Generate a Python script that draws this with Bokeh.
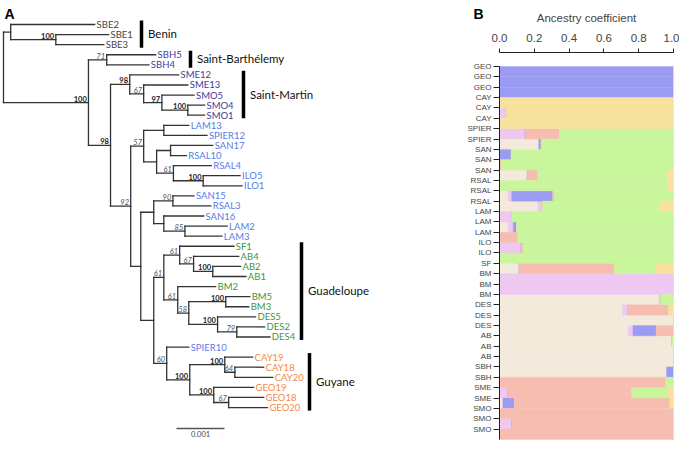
from bokeh.plotting import figure
from bokeh.models import Range1d, FixedTicker, ColumnDataSource, PrintfTickFormatter, LinearAxis
from bokeh.layouts import row
from bokeh.embed import file_html
from bokeh.resources import INLINE
from bokeh.core.properties import value

# ------------------------------------------------------------------
# Panel A data: phylogenetic tree (branch lengths in units of 1e-4)
# ------------------------------------------------------------------
tree_node = ["root",
    "n_benin", "SBE2", "n_sbe", "SBE1", "SBE3",
    "n_a", "n_sbh", "SBH5", "SBH4",
    "n_b", "n_sm", "SME12", "n_sm2", "SME13", "n_sm3", "SMO5", "n_sm4", "SMO4", "SMO1",
    "n_92", "n_57", "n_ls", "LAM13", "SPIER12", "n_x", "n_sr", "SAN17", "RSAL10", "n_61a", "RSAL4", "n_ilo", "ILO5", "ILO1",
    "n_c", "n_c1", "n_90", "SAN15", "RSAL3", "n_c2", "SAN16", "n_85", "LAM2", "LAM3",
    "n_d", "n_gua", "n_61b", "SF1", "n_67b", "AB4", "n_ab", "AB2", "AB1",
    "n_61c", "BM2", "n_58", "n_bm", "BM5", "BM3", "n_des", "DES5", "n_79", "DES2", "DES4",
    "n_60", "SPIER10", "n_guy", "n_cay", "CAY19", "n_64", "CAY18", "CAY20", "n_geo", "GEO19", "n_67c", "GEO18", "GEO20"]
tree_parent = [None,
    "root", "n_benin", "n_benin", "n_sbe", "n_sbe",
    "root", "n_a", "n_sbh", "n_sbh",
    "n_a", "n_b", "n_sm", "n_sm", "n_sm2", "n_sm2", "n_sm3", "n_sm3", "n_sm4", "n_sm4",
    "n_b", "n_92", "n_57", "n_ls", "n_ls", "n_57", "n_x", "n_sr", "n_sr", "n_x", "n_61a", "n_61a", "n_ilo", "n_ilo",
    "n_92", "n_c", "n_c1", "n_90", "n_90", "n_c1", "n_c2", "n_c2", "n_85", "n_85",
    "n_c", "n_d", "n_gua", "n_61b", "n_61b", "n_67b", "n_67b", "n_ab", "n_ab",
    "n_gua", "n_61c", "n_61c", "n_58", "n_bm", "n_bm", "n_58", "n_des", "n_des", "n_79", "n_79",
    "n_d", "n_60", "n_60", "n_guy", "n_cay", "n_cay", "n_64", "n_64", "n_guy", "n_geo", "n_geo", "n_67c", "n_67c"]
tree_length = [0.0,
    1.5, 17.5, 9.4, 11.0, 10.0,
    17.7, 3.8, 10.2, 8.8,
    4.6, 4.0, 10.2, 2.9, 9.2, 3.8, 6.7, 5.4, 3.5, 3.5,
    4.2, 2.7, 4.2, 5.2, 9.0, 2.7, 2.9, 8.8, 3.3, 3.5, 7.9, 6.2, 7.7, 8.1,
    2.1, 2.7, 4.0, 4.4, 7.9, 2.1, 8.3, 4.4, 8.8, 7.7,
    2.7, 2.1, 3.3, 11.3, 2.9, 9.4, 4.0, 5.8, 6.9,
    2.9, 7.9, 2.3, 7.7, 5.0, 4.8, 6.0, 7.9, 4.0, 5.8, 6.9,
    2.7, 4.6, 4.8, 7.3, 5.8, 2.1, 6.0, 7.9, 5.0, 8.3, 3.1, 7.3, 8.1]
tree_support = [None,
    None, None, 100, None, None,
    100, 71, None, None,
    98, 98, None, 67, None, 97, None, 100, None, None,
    92, 57, None, None, None, None, None, None, None, 61, None, 100, None, None,
    None, None, 90, None, None, None, None, 85, None, None,
    None, 61, 61, None, 67, None, 100, None, None,
    61, None, 58, 100, None, None, 100, None, 79, None, None,
    60, None, 100, 100, None, 64, None, None, 100, None, 67, None, None]

clade_names = ["Benin", "Saint-Barthélemy", "Saint-Martin", "Guadeloupe", "Guyane"]
clade_first = ["SBE2", "SBH5", "SME12", "SF1", "CAY19"]
clade_last = ["SBE3", "SBH4", "SMO1", "DES4", "GEO20"]
scale_bar_length = 10.0          # = 0.001 substitutions / site
scale_bar_label = "0.001"

# ------------------------------------------------------------------
# Panel B data: ancestry coefficients (stack order left -> right)
# ------------------------------------------------------------------
row_labels = ["GEO", "GEO", "GEO", "CAY", "CAY", "CAY", "SPIER", "SPIER", "SAN", "SAN", "SAN",
              "RSAL", "RSAL", "RSAL", "LAM", "LAM", "LAM", "ILO", "ILO", "SF", "BM", "BM", "BM",
              "DES", "DES", "DES", "AB", "AB", "AB", "SBH", "SBH", "SME", "SME", "SMO", "SMO", "SMO"]
k_beige = [0, 0, 0, 0, 0, 0, 0, 0.226, 0, 0, 0.16, 0, 0.05, 0.22, 0, 0.05, 0, 0, 0, 0.113,
           0, 0, 0.917, 0.707, 1, 0.74, 0.99, 1, 1, 0.96, 0, 0, 0.02, 0, 0, 0]
k_pink = [0, 0, 0, 0, 0.04, 0, 0.147, 0, 0, 0, 0, 0, 0.02, 0.025, 0.068, 0.029, 0, 0.124, 0, 0,
          1, 1, 0.008, 0.033, 0, 0.027, 0, 0, 0, 0, 0, 0.049, 0, 0, 0.071, 0]
k_purple = [1, 1, 1, 0, 0, 0, 0, 0.013, 0.067, 0, 0, 0, 0.235, 0, 0, 0.019, 0, 0, 0, 0,
            0, 0, 0, 0, 0, 0.133, 0, 0, 0, 0.04, 0, 0, 0.064, 0, 0, 0]
k_salmon = [0, 0, 0, 0, 0, 0, 0.195, 0, 0, 0.01, 0.06, 0, 0.01, 0, 0, 0, 0.105, 0.011, 0, 0.545,
            0, 0, 0, 0.232, 0, 0.10, 0, 0, 0, 0, 0.955, 0.711, 0.896, 1, 0.929, 1]
k_green = [0, 0, 0, 0, 0, 0, 0.658, 0.761, 0.933, 0.99, 0.744, 0.965, 0.685, 0.675, 0.932, 0.902, 0.895, 0.865, 1, 0.242,
           0, 0, 0.075, 0, 0, 0, 0.01, 0, 0, 0, 0.045, 0.208, 0, 0, 0, 0]
k_yellow = [0, 0, 0, 1, 0.96, 1, 0, 0, 0, 0, 0.036, 0.035, 0, 0.08, 0, 0, 0, 0, 0, 0.10,
            0, 0, 0, 0.028, 0, 0, 0, 0, 0, 0, 0, 0.032, 0.02, 0, 0, 0]
x_ticks = [0.0, 0.2, 0.4, 0.6, 0.8, 1.0]

# ------------------------------------------------------------------
# styles / layout constants
# ------------------------------------------------------------------
TREE_FONT = "Lato"
leaf_colors = {"SBE": "#444444", "SBH": "#3f3c9c", "SME": "#3f3c9c", "SMO": "#3f3c9c",
               "LAM": "#5b7be6", "SPIER": "#5b7be6", "SAN": "#5b7be6", "RSAL": "#5b7be6", "ILO": "#5b7be6",
               "SF": "#3d963d", "AB": "#3d963d", "BM": "#3d963d", "DES": "#3d963d",
               "CAY": "#f08a4c", "GEO": "#f08a4c"}
k_colors = ["#f4eadb", "#eec8f0", "#9b9bf3", "#f6bdb0", "#c9f59c", "#f7e19d"]
PX_PER_UNIT = 4.8          # horizontal pixels per 1e-4 substitutions
ROOT_PX = 3.0              # root position (px from figure left)
FIRST_LEAF_PX = 24.0       # first leaf position (px from figure top)
ROW_PX = 10.08             # vertical pixels per leaf
clade_bar_px = [141, 190, 243, 301, 309]   # bar positions (px from figure left)
H = 443

# ------------------------------------------------------------------
# tree layout computed from the data
# ------------------------------------------------------------------
children = {n: [] for n in tree_node}
for n, par in zip(tree_node, tree_parent):
    if par is not None:
        children[par].append(n)
blen = dict(zip(tree_node, tree_length))
parent = dict(zip(tree_node, tree_parent))
depth = {}
for n, par in zip(tree_node, tree_parent):
    depth[n] = 0.0 if par is None else depth[par] + blen[n]
ypos = {}
leaves = []


def walk(n):
    if not children[n]:
        ypos[n] = len(leaves)
        leaves.append(n)
    else:
        for c in children[n]:
            walk(c)
        ypos[n] = (ypos[children[n][0]] + ypos[children[n][-1]]) / 2.0


walk("root")

TW = 486
X0 = ROOT_PX / PX_PER_UNIT
top_idx = -FIRST_LEAF_PX / ROW_PX
p1 = figure(width=TW, height=H, output_backend="svg", toolbar_location=None,
            x_range=Range1d(-X0, (TW - ROOT_PX) / PX_PER_UNIT),
            y_range=Range1d(top_idx + H / ROW_PX, top_idx),
            min_border=0, min_border_left=0, min_border_right=0, min_border_top=0, min_border_bottom=0,
            outline_line_color=None, x_axis_location=None, y_axis_location=None)
p1.grid.visible = False

hx0, hx1, hy = [], [], []
vx, vy0, vy1 = [], [], []
for n in tree_node:
    if parent[n] is not None:
        hx0.append(depth[parent[n]]); hx1.append(depth[n]); hy.append(ypos[n])
    if children[n]:
        vx.append(depth[n]); vy0.append(ypos[children[n][0]]); vy1.append(ypos[children[n][-1]])
p1.segment(x0=hx0, y0=hy, x1=hx1, y1=hy, line_color="#333333", line_width=1.3, line_cap="square")
p1.segment(x0=vx, y0=vy0, x1=vx, y1=vy1, line_color="#333333", line_width=1.3, line_cap="square")


def leaf_color(name):
    return leaf_colors[name.rstrip("0123456789")]


p1.text(x=[depth[l] + 0.4 for l in leaves], y=[ypos[l] for l in leaves], text=leaves,
        text_color=[leaf_color(l) for l in leaves], text_font=value(TREE_FONT),
        text_font_size="9.5px", text_baseline="middle", text_align="left")

for bold in (True, False):
    sx, sy, st = [], [], []
    for n, s in zip(tree_node, tree_support):
        if s is None or (s >= 95) != bold:
            continue
        sx.append(depth[n] - 0.35); sy.append(ypos[n] - 0.1); st.append(str(s))
    p1.text(x=sx, y=sy, text=st, text_align="right", text_baseline="bottom",
            text_font=value(TREE_FONT), text_font_size="7.5px",
            text_font_style="bold" if bold else "italic",
            text_color="#222222" if bold else "#555555")

# clade bars
bar_x = [(px - ROOT_PX) / PX_PER_UNIT for px in clade_bar_px]
bar_y0 = [ypos[f] - 0.4 for f in clade_first]
bar_y1 = [ypos[l] + 0.3 for l in clade_last]
lab_x = [x + 1.35 for x in bar_x]
lab_y = [(ypos[f] + ypos[l]) / 2 - 0.1 for f, l in zip(clade_first, clade_last)]
p1.segment(x0=bar_x, y0=bar_y0, x1=bar_x, y1=bar_y1, line_color="black", line_width=3.5)
p1.text(x=lab_x, y=lab_y, text=clade_names, text_font=value(TREE_FONT), text_font_size="11.5px",
        text_baseline="middle", text_color="#111111")

# scale bar
sb_x0 = (176 - ROOT_PX) / PX_PER_UNIT
sb_y = (428 - FIRST_LEAF_PX) / ROW_PX
p1.segment(x0=[sb_x0], y0=[sb_y], x1=[sb_x0 + scale_bar_length], y1=[sb_y], line_color="#555555", line_width=1.5)
p1.text(x=[sb_x0 + scale_bar_length / 2], y=[sb_y + 0.2], text=[scale_bar_label], text_align="center",
        text_baseline="top", text_font=value(TREE_FONT), text_font_size="7.5px", text_color="#444444")

# panel letters
p1.text(x=[(4 - ROOT_PX) / PX_PER_UNIT, (473 - ROOT_PX) / PX_PER_UNIT],
        y=[top_idx + 5 / ROW_PX] * 2, text=["A", "B"], text_baseline="top",
        text_align="left", text_font=value("Liberation Sans"), text_font_style="bold",
        text_font_size="14px", text_color="black")

# ------------------------------------------------------------------
# Panel B: stacked horizontal bars
# ------------------------------------------------------------------
nrow = len(row_labels)
ROW_B = 10.36
BAR_TOP = 66.0
B_LEFT, B_RIGHT = 462, 679        # figure extent (px)
F0, F1 = 499, 673                 # pixel positions of 0 and 1
ppu = F1 - F0
src = ColumnDataSource(dict(y=[i + 0.5 for i in range(nrow)], beige=k_beige, pink=k_pink, purple=k_purple,
                            salmon=k_salmon, green=k_green, yellow=k_yellow))
p2 = figure(width=B_RIGHT - B_LEFT, height=H, output_backend="svg", toolbar_location=None,
            x_range=Range1d(-(F0 - B_LEFT) / ppu, 1 + (B_RIGHT - F1) / ppu),
            y_range=Range1d((H - BAR_TOP) / ROW_B, -BAR_TOP / ROW_B),
            x_axis_location=None, y_axis_location=None,
            min_border=0, min_border_left=0, min_border_right=0, min_border_top=0, min_border_bottom=0,
            outline_line_color=None, border_fill_color=None, background_fill_color=None)
p2.margin = (0, 0, 0, B_LEFT - TW)
p2.hbar_stack(["beige", "pink", "purple", "salmon", "green", "yellow"], y="y", height=1.0,
              color=k_colors, line_width=0.4, source=src)
p2.grid.visible = False

xa = LinearAxis(fixed_location=-14 / ROW_B, bounds=(0, 1))
xa.ticker = FixedTicker(ticks=x_ticks)
xa.formatter = PrintfTickFormatter(format="%.1f")
xa.axis_label = "Ancestry coefficient"
xa.axis_label_text_font = "Liberation Sans"
xa.axis_label_text_font_style = "normal"
xa.axis_label_text_font_size = "11.5px"
xa.axis_label_standoff = 7
xa.major_label_text_font = "Liberation Sans"
xa.major_label_text_font_size = "11.5px"
xa.major_label_standoff = 7
xa.major_tick_out = 4
xa.major_tick_in = 0
xa.minor_tick_line_color = None
xa.axis_line_color = "#222222"
xa.major_tick_line_color = "#222222"
p2.add_layout(xa, "above")

ya = LinearAxis(fixed_location=0, bounds=(0, nrow))
ya.ticker = FixedTicker(ticks=list(range(nrow)))
ya.major_label_overrides = {i: lab for i, lab in enumerate(row_labels)}
ya.major_label_text_font = "Liberation Sans"
ya.major_label_text_font_size = "8px"
ya.major_label_standoff = 2
ya.major_tick_out = 6
ya.major_tick_in = 0
ya.minor_tick_line_color = None
ya.axis_line_color = "#222222"
ya.major_tick_line_color = "#222222"
p2.add_layout(ya, "left")

layout = row(p1, p2)
open("out.html", "w").write(file_html(layout, INLINE))
